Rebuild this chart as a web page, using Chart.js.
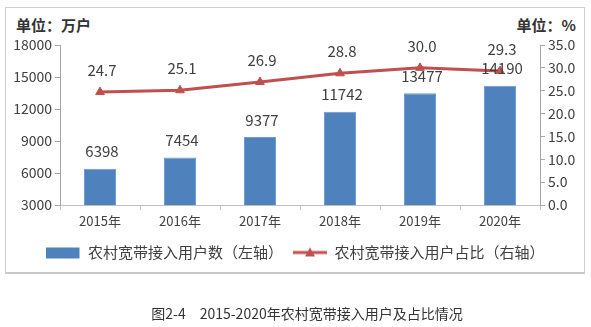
<!DOCTYPE html>
<html>
<head>
<meta charset="utf-8">
<script src="https://cdn.jsdelivr.net/npm/chart.js@4"></script>
<style>
  body { margin: 0; background: #fff; }
  #wrap { position: relative; width: 591px; height: 327px; font-family: "Noto Sans CJK SC", sans-serif; }
  #frame { position: absolute; left: 5px; top: 7px; width: 578px; height: 264px; border: 1px solid #d0d0d0; border-bottom: 2px solid #c8c8c8; }
  .unit { position: absolute; top: 14px; font-size: 15px; font-weight: bold; color: #333; }
  #caption { position: absolute; left: 0; width: 614px; top: 303px; text-align: center; font-size: 14px; color: #333; white-space: pre; }
  canvas { position: absolute; left: 0; top: 0; }
</style>
</head>
<body>
<div id="wrap">
  <div id="frame"></div>
  <div class="unit" style="left:16px">单位：万户</div>
  <div class="unit" style="right:15px">单位：%</div>
  <canvas id="combo" width="591" height="327"></canvas>
  <div id="caption">图2-4&emsp;2015-2020年农村宽带接入用户及占比情况</div>
</div>
<script>
// chart values
const years = ['2015年', '2016年', '2017年', '2018年', '2019年', '2020年'];
const users = [6398, 7454, 9377, 11742, 13477, 14190];   // 万户, left axis
const share = [24.7, 25.1, 26.9, 28.8, 30.0, 29.3];       // %, right axis
const leftTicks = [3000, 6000, 9000, 12000, 15000, 18000];
const rightTicks = [0, 5, 10, 15, 20, 25, 30, 35];
const barName = '农村宽带接入用户数（左轴）';
const lineName = '农村宽带接入用户占比（右轴）';

const blue = '#4f81bd';
const red = '#c0504d';
const textColor = '#404040';
const font = '"Noto Sans CJK SC", sans-serif';

// small legend icons
function makeIcon(kind) {
    const c = document.createElement('canvas');
    c.width = 34; c.height = 14;
    const g = c.getContext('2d');
    if (kind === 'bar') {
        g.fillStyle = blue;
        g.fillRect(0, 2, 33, 11);
    } else {
        g.strokeStyle = red;
        g.lineWidth = 3;
        g.beginPath(); g.moveTo(0, 7); g.lineTo(34, 7); g.stroke();
        g.fillStyle = red;
        g.beginPath(); g.moveTo(17, 2); g.lineTo(22, 11); g.lineTo(12, 11); g.closePath(); g.fill();
    }
    return c;
}

// value labels above bars and points
const valueLabels = {
    id: 'valueLabels',
    afterDatasetsDraw(chart) {
        const ctx = chart.ctx;
        ctx.save();
        ctx.fillStyle = textColor;
        ctx.textAlign = 'center';
        ctx.textBaseline = 'middle';
        ctx.font = '15px ' + font;
        chart.getDatasetMeta(0).data.forEach((bar, i) => {
            ctx.fillText(String(users[i]), bar.x + 2, bar.y - 17);
        });
        chart.getDatasetMeta(1).data.forEach((pt, i) => {
            ctx.fillText(share[i].toFixed(1), pt.x + 2, pt.y - 22);
        });
        ctx.restore();
    }
};

const barIcon = makeIcon('bar');
const lineIcon = makeIcon('line');

new Chart(document.getElementById('combo'), {
    data: {
        labels: years,
        datasets: [
            {
                type: 'bar',
                label: barName,
                data: users,
                yAxisID: 'y',
                backgroundColor: blue,
                borderColor: '#6f9bd3',
                borderWidth: 1,
                categoryPercentage: 1,
                barPercentage: 0.4,
                order: 2
            },
            {
                type: 'line',
                label: lineName,
                data: share,
                yAxisID: 'y1',
                borderColor: red,
                backgroundColor: red,
                borderWidth: 3,
                pointStyle: 'triangle',
                pointRadius: 5,
                pointBorderWidth: 1,
                tension: 0,
                order: 1
            }
        ]
    },
    options: {
        responsive: false,
        animation: false,
        layout: { padding: { top: 45, left: 0, right: 0, bottom: 57 } },
        scales: {
            x: {
                offset: true,
                afterFit: s => { s.height = 30; },
                ticks: { color: textColor, font: { size: 13, family: font }, padding: 3 },
                grid: { drawOnChartArea: false, tickLength: 5, color: '#bfbfbf', offset: true },
                border: { color: '#bfbfbf' }
            },
            y: {
                position: 'left',
                min: leftTicks[0],
                max: leftTicks[leftTicks.length - 1],
                afterFit: s => { s.width = 60; },
                afterBuildTicks: s => { s.ticks = leftTicks.map(v => ({ value: v })); },
                ticks: {
                    color: textColor, font: { size: 14, family: font }, padding: 3,
                    callback: v => String(v)
                },
                grid: { drawOnChartArea: false, tickLength: 5, color: '#a6a6a6' },
                border: { color: '#a6a6a6' }
            },
            y1: {
                position: 'right',
                min: rightTicks[0],
                max: rightTicks[rightTicks.length - 1],
                afterFit: s => { s.width = 51; },
                afterBuildTicks: s => { s.ticks = rightTicks.map(v => ({ value: v })); },
                ticks: {
                    color: textColor, font: { size: 14, family: font }, padding: 3,
                    callback: v => Number(v).toFixed(1)
                },
                grid: { drawOnChartArea: false, tickLength: 5, color: '#a6a6a6' },
                border: { color: '#a6a6a6' }
            }
        },
        plugins: {
            tooltip: { enabled: false },
            legend: {
                position: 'bottom',
                labels: {
                    usePointStyle: true,
                    pointStyleWidth: 34,
                    padding: 10,
                    color: textColor,
                    font: { size: 15, family: font },
                    generateLabels: () => [
                        { text: barName, pointStyle: barIcon, fontColor: textColor, fillStyle: blue, strokeStyle: blue, lineWidth: 0, hidden: false, datasetIndex: 0 },
                        { text: lineName, pointStyle: lineIcon, fontColor: textColor, fillStyle: red, strokeStyle: red, lineWidth: 0, hidden: false, datasetIndex: 1 }
                    ]
                }
            }
        }
    },
    plugins: [valueLabels]
});
</script>
</body>
</html>
